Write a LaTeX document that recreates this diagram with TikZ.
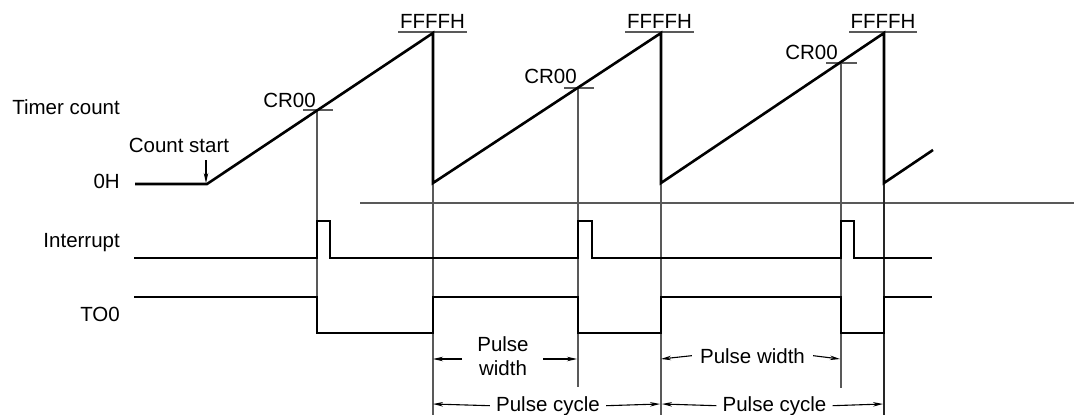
\documentclass[tikz,border=0pt]{standalone}
\usepackage{fontspec}
\setmainfont{Liberation Sans}
\usetikzlibrary{arrows.meta}
\begin{document}
\begin{tikzpicture}[x=1pt,y=-1pt,
  sig/.style={line width=2.6pt,line join=miter,black},
  thin/.style={line width=1.1pt,black!65},
  arr/.style={line width=1.1pt,black,-{Stealth[length=10pt,width=4.5pt]}},
  lbl/.style={inner sep=0pt,font=\fontsize{20.5}{24}\selectfont},
]
\useasboundingbox (0,0) rectangle (1074,415);
% labels
\node[lbl,anchor=base east] (tc) at (120,114) {Timer count};
\node[lbl,anchor=base] (cs) at (179,152) {Count start};
\node[lbl,anchor=base east] (zh) at (120,188) {0H};
\node[lbl,anchor=base east] (ir) at (120,247) {Interrupt};
\node[lbl,anchor=base east] (to) at (120,321) {TO0};
% FFFFH labels
\node[lbl,anchor=base] (f1) at (432.5,28) {FFFFH};
\node[lbl,anchor=base] (f2) at (659.5,28) {FFFFH};
\node[lbl,anchor=base] (f3) at (883,28) {FFFFH};
\draw[thin] (398,32) -- (467,32);
\draw[thin] (625,32) -- (694,32);
\draw[thin] (849,32) -- (917,32);
% CR00 labels
\node[lbl,anchor=base east] (c1) at (316,107) {CR00};
\node[lbl,anchor=base east] (c2) at (577,83) {CR00};
\node[lbl,anchor=base east] (c3) at (838,59) {CR00};
\draw[thin] (303,110) -- (333,110);
\draw[thin] (564,88) -- (594,88);
\draw[thin] (826,63) -- (857,63);
% reference line
\draw[thin] (360,203) -- (1074,203);
% vertical guide lines
\draw[thin] (317,110) -- (317,333);
\draw[thin] (433,183) -- (433,415);
\draw[thin] (578,88) -- (578,387);
\draw[thin] (661,183) -- (661,415);
\draw[thin] (841,63) -- (841,388);
\draw[thin,black!85] (884,183) -- (884,415);
% timer count waveform
\draw[sig] (135,184) -- (207,184) -- (433,33) -- (433,183) -- (661,33) -- (661,183) -- (884,33) -- (884,183) -- (933,150);
% count start arrow
\coordinate (csA) at (206,160);
\coordinate (csB) at (206,183);
\draw[arr] (csA) -- (csB);
% interrupt
\draw[sig] (134,258) -- (317,258) -- (317,221) -- (330,221) -- (330,258) -- (578,258) -- (578,221) -- (592,221) -- (592,258) -- (841,258) -- (841,221) -- (854,221) -- (854,258) -- (932,258);
% TO0
\draw[sig] (134,297) -- (317,297) -- (317,333) -- (433,333) -- (433,297) -- (578,297) -- (578,333) -- (661,333) -- (661,297) -- (841,297) -- (841,333) -- (884,333) -- (884,297) -- (932,297);
% pulse width 1
\node[lbl,anchor=base] (pw1a) at (503,351) {Pulse};
\node[lbl,anchor=base] (pw1b) at (503,375) {width};
\coordinate (pw1L) at (462,359);
\coordinate (pw1R) at (543,359);
\draw[arr] (pw1L) -- (433,359);
\draw[arr] (pw1R) -- (577,359);
% pulse width 2
\node[lbl,anchor=base] (pw2) at (752.5,363) {Pulse width};
\draw[arr] (pw2.west) ++(-8,0) coordinate (pw2L) -- (661,359);
\draw[arr] (pw2.east) ++(8,0) coordinate (pw2R) -- (840,359);
% pulse cycle 1
\node[lbl,anchor=base] (pc1) at (548,411) {Pulse cycle};
\draw[arr] (pc1.west) ++(-6,0) coordinate (pc1L) -- (433,404);
\draw[arr] (pc1.east) ++(6,0) coordinate (pc1R) -- (660,404);
% pulse cycle 2
\node[lbl,anchor=base] (pc2) at (774.5,411) {Pulse cycle};
\draw[arr] (pc2.west) ++(-6,0) coordinate (pc2L) -- (662,404);
\draw[arr] (pc2.east) ++(6,0) coordinate (pc2R) -- (883,404);
\end{tikzpicture}
\end{document}
